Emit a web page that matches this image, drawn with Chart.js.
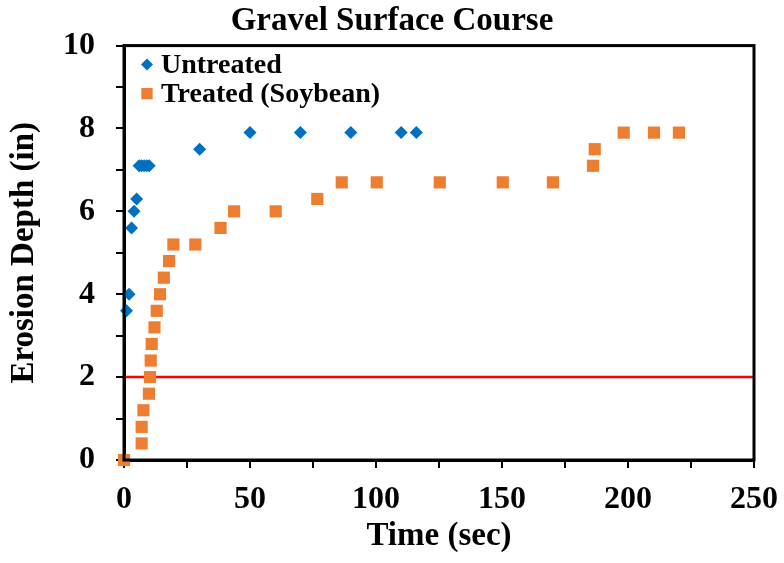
<!DOCTYPE html>
<html>
<head>
<meta charset="utf-8">
<script src="https://cdn.jsdelivr.net/npm/chart.js@4.4.1/dist/chart.umd.min.js"></script>
<style>
  html, body { margin: 0; padding: 0; background: #fff; }
  #wrap { width: 784px; height: 563px; }
</style>
</head>
<body>
<div id="wrap"><canvas id="erosionChart"></canvas></div>
<script>
// valori
const untreatedTime = [1, 2, 3, 4, 5, 6, 7, 8, 9, 10, 30, 50, 70, 90, 110, 116];
const untreatedDepth = [3.6, 4.0, 5.6, 6.0, 6.3, 7.1, 7.1, 7.1, 7.1, 7.1, 7.5, 7.9, 7.9, 7.9, 7.9, 7.9];

const treatedTime = [0, 7, 7, 7.7, 9.9, 10.3, 10.6, 11, 12.1, 13, 14.3, 15.8, 17.9, 19.6, 28.3, 38.3,
  43.7, 60.2, 76.7, 86.4, 100.3, 125.3, 150.3, 170.2, 186.1, 186.8, 198.3, 210.3, 220.2];
const treatedDepth = [0, 0.4, 0.8, 1.2, 1.6, 2.0, 2.4, 2.8, 3.2, 3.6, 4.0, 4.4, 4.8, 5.2, 5.2, 5.6,
  6.0, 6.0, 6.3, 6.7, 6.7, 6.7, 6.7, 6.7, 7.1, 7.5, 7.9, 7.9, 7.9];

const limitTime = [0, 250];
const limitDepth = [2, 2];

const seriesNames = ['Untreated', 'Treated (Soybean)'];

const toPoints = (xs, ys) => xs.map((x, i) => ({ x: x, y: ys[i] }));

const serif = 'Liberation Serif, Times New Roman, serif';

// bordo del riquadro del grafico
const boxPlugin = {
  id: 'plotBox',
  afterDatasetsDraw(chart) {
    const a = chart.chartArea;
    const ctx = chart.ctx;
    ctx.save();
    ctx.strokeStyle = '#000';
    ctx.lineWidth = 3;
    ctx.strokeRect(a.left, a.top, a.right - a.left, a.bottom - a.top);
    ctx.restore();
  }
};

// legenda dentro l'area del grafico, in alto a sinistra
const insideLegend = {
  id: 'insideLegend',
  afterDraw(chart) {
    const a = chart.chartArea;
    const ctx = chart.ctx;
    ctx.save();
    ctx.font = 'bold 28px ' + serif;
    ctx.textBaseline = 'middle';
    [0, 1].forEach((i) => {
      const ds = chart.data.datasets[i];
      const y = a.top + 19 + i * 29;
      ctx.fillStyle = ds.backgroundColor;
      Chart.helpers.drawPoint(ctx, {
        pointStyle: ds.pointStyle,
        radius: i === 0 ? 6 : 8,
        rotation: 0,
        borderWidth: 0
      }, a.left + 23, y);
      ctx.fillStyle = '#000';
      ctx.fillText(ds.label, a.left + 37, y + 1);
    });
    ctx.restore();
  }
};

new Chart(document.getElementById('erosionChart').getContext('2d'), {
  type: 'scatter',
  data: {
    datasets: [
      {
        label: seriesNames[0],
        data: toPoints(untreatedTime, untreatedDepth),
        pointStyle: 'rectRot',
        pointRadius: 6.5,
        pointHoverRadius: 6.5,
        backgroundColor: '#0070C0',
        borderColor: '#0070C0',
        borderWidth: 0,
        clip: false
      },
      {
        label: seriesNames[1],
        data: toPoints(treatedTime, treatedDepth),
        pointStyle: 'rect',
        pointRadius: 8.6,
        pointHoverRadius: 8.6,
        backgroundColor: '#ED7D31',
        borderColor: '#ED7D31',
        borderWidth: 0,
        clip: false
      },
      {
        label: 'limit',
        type: 'line',
        data: toPoints(limitTime, limitDepth),
        borderColor: '#FF0000',
        borderWidth: 2.5,
        pointRadius: 0,
        fill: false
      }
    ]
  },
  options: {
    responsive: true,
    maintainAspectRatio: false,
    animation: false,
    layout: { padding: 0 },
    plugins: {
      title: {
        display: true,
        text: 'Gravel Surface Course',
        color: '#000',
        font: { family: serif, size: 33, weight: 'bold' },
        padding: { top: 2, bottom: 4 }
      },
      legend: { display: false },
      tooltip: { enabled: false }
    },
    scales: {
      x: {
        type: 'linear',
        min: 0,
        max: 250,
        border: { color: '#000', width: 3 },
        grid: { drawOnChartArea: false, color: '#000', lineWidth: 2, tickLength: 8 },
        ticks: {
          stepSize: 25,
          color: '#000',
          padding: 13,
          maxRotation: 0,
          font: { family: serif, size: 32, weight: 'bold' },
          callback: (v) => (v % 50 === 0 ? v : '')
        },
        title: {
          display: true,
          text: 'Time (sec)',
          color: '#000',
          font: { family: serif, size: 33, weight: 'bold' },
          padding: { top: 0, bottom: 7 }
        },
        afterFit: (scale) => {
          scale.height = 103;
          scale.paddingLeft = 0;
          scale.paddingRight = 0;
        }
      },
      y: {
        min: 0,
        max: 10,
        border: { color: '#000', width: 3 },
        grid: { drawOnChartArea: false, color: '#000', lineWidth: 2, tickLength: 8 },
        ticks: {
          stepSize: 1,
          color: '#000',
          padding: 21,
          font: { family: serif, size: 32, weight: 'bold' },
          callback: (v) => (v % 2 === 0 ? v : '')
        },
        title: {
          display: true,
          text: 'Erosion Depth (in)',
          color: '#000',
          font: { family: serif, size: 33, weight: 'bold' },
          padding: { top: 5, bottom: 0 }
        },
        afterFit: (scale) => { scale.width = 124; }
      },
      yRight: {
        type: 'linear',
        position: 'right',
        display: true,
        grid: { display: false },
        border: { display: false },
        ticks: { display: false },
        afterFit: (scale) => { scale.width = 30; }
      }
    }
  },
  plugins: [boxPlugin, insideLegend]
});
</script>
</body>
</html>
